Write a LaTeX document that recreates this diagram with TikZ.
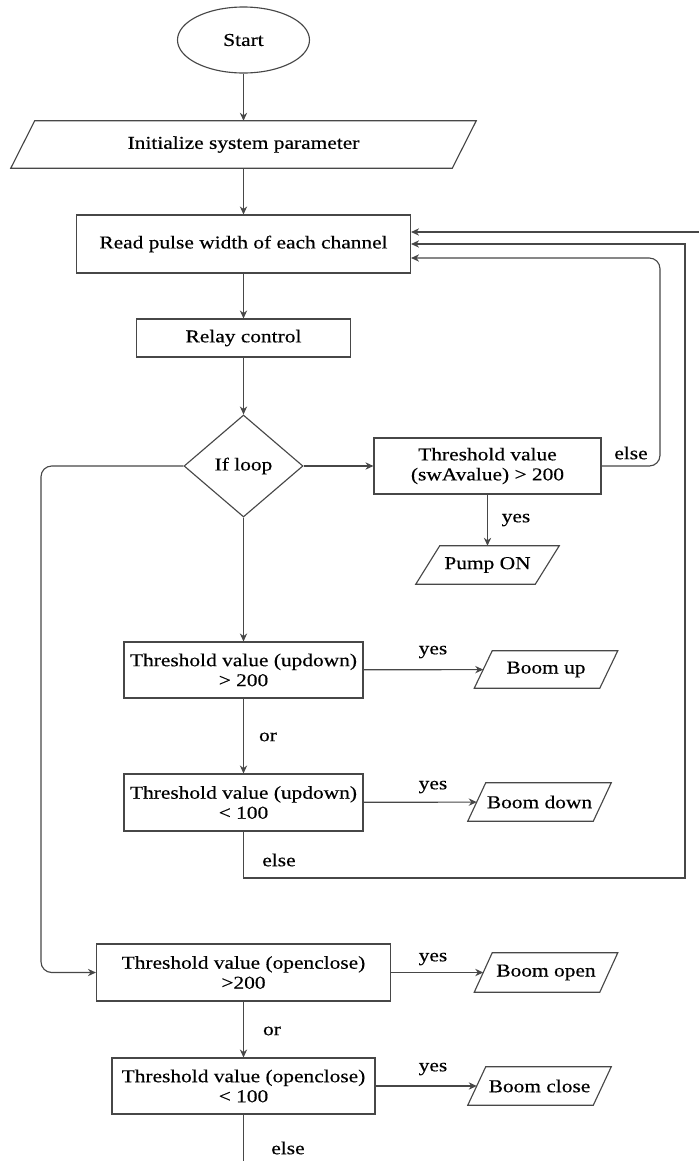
\documentclass[tikz,border=0pt]{standalone}
\usepackage{fontspec}
\setmainfont{Liberation Serif}[FakeStretch=1.18,FakeBold=0.4]
\usetikzlibrary{shapes.geometric,arrows.meta}

\begin{document}
\begin{tikzpicture}[x=0.75pt,y=-0.75pt,
    every node/.style={font=\fontsize{13.6}{15}\selectfont},
    sz/.style n args={2}{minimum width=#1*0.75pt,minimum height=#2*0.75pt},
    box/.style={draw=black!72,line width=0.85pt,rectangle,align=center,inner sep=0pt},
    io/.style={rectangle,align=center,inner sep=0pt},
    line/.style={draw=black!72,line width=0.85pt},
    arr/.style={line,-{Stealth[length=6pt,width=5.5pt]}},
    lbl/.style={inner sep=0pt}]
    \useasboundingbox (0,0) rectangle (699,1161);

    \node[ellipse,draw=black!72,line width=0.85pt,sz={132}{66},inner sep=0pt] (start) at (243.5,40) {Start};
    \node[io,sz={441}{47}] (init) at (243.5,144.5) {Initialize system parameter};
    \node[box,sz={334}{58}] (read) at (243.5,244) {Read pulse width of each channel};
    \node[box,sz={214}{38}] (relay) at (243.5,338) {Relay control};
    \node[diamond,draw=black!72,line width=0.85pt,aspect=1.17,sz={119}{102},inner sep=0pt] (loop) at (243.5,466) {If loop};
    \node[box,sz={227}{56}] (swa) at (487.5,466) {Threshold value\\(swAvalue) > 200};
    \node[io,sz={119}{38}] (pump) at (487.5,565) {Pump ON};
    \node[box,sz={239}{56}] (ud1) at (243.5,670) {Threshold value (updown)\\> 200};
    \node[io,sz={125}{37}] (up) at (546,669.5) {Boom up};
    \node[box,sz={239}{57}] (ud2) at (243.5,802.5) {Threshold value (updown)\\< 100};
    \node[io,sz={125}{38}] (down) at (539.5,802) {Boom down};
    \node[box,sz={294}{57}] (oc1) at (243.5,972.5) {Threshold value (openclose)\\>200};
    \node[io,sz={125}{39}] (open) at (546,972.5) {Boom open};
    \node[box,sz={263}{56}] (oc2) at (243.5,1086) {Threshold value (openclose)\\< 100};
    \node[io,sz={125}{38}] (close) at (539.5,1086) {Boom close};

    \foreach \n/\s in {init/12,pump/12,up/9,down/9,open/9,close/9}
        \draw[line] ([xshift=\s*0.75pt]\n.north west) -- ([xshift=\s*0.75pt]\n.north east)
            -- ([xshift=-\s*0.75pt]\n.south east) -- ([xshift=-\s*0.75pt]\n.south west) -- cycle;

    \node[lbl] (yes1) at (516,520) {yes};
    \node[lbl] (else1) at (631,453) {else};
    \node[lbl] (yes2) at (433,652) {yes};
    \node[lbl] (or1) at (268,737) {or};
    \node[lbl] (yes3) at (433,787) {yes};
    \node[lbl] (else2) at (279,860) {else};
    \node[lbl] (yes4) at (433,959) {yes};
    \node[lbl] (or2) at (272,1031) {or};
    \node[lbl] (yes5) at (433,1069) {yes};
    \node[lbl] (else3) at (288,1148) {else};

    \coordinate (edge) at (699,232);
    \coordinate (c1) at (660,258);
    \coordinate (e1) at (685,878);
    \coordinate (l1) at (41,466);
    \coordinate (bot) at (243.5,1161);

    \draw[arr] (start) -- (init);
    \draw[arr] (init) -- (read);
    \draw[arr] (read) -- (relay);
    \draw[arr] (relay) -- (loop);
    \draw[arr] (loop) -- (swa);
    \draw[arr] (swa) -- (pump);
    \draw[arr,rounded corners=8pt] (swa.east) -| (c1) -- (c1 -| read.east);
    \draw[arr] (edge) -- (edge -| read.east);
    \draw[arr,rounded corners=8pt] (loop.west) -- (l1) |- (oc1.west);
    \draw[arr] (loop) -- (ud1);
    \draw[arr] (ud1) -- (up);
    \draw[arr] (ud1) -- (ud2);
    \draw[arr] (ud2) -- (down);
    \draw[arr] (ud2.south) |- (e1) -- (e1 |- read.east) -- (read.east);
    \draw[arr] (oc1) -- (open);
    \draw[arr] (oc1) -- (oc2);
    \draw[arr] (oc2) -- (close);
    \draw[line] (oc2) -- (bot);
\end{tikzpicture}
\end{document}
